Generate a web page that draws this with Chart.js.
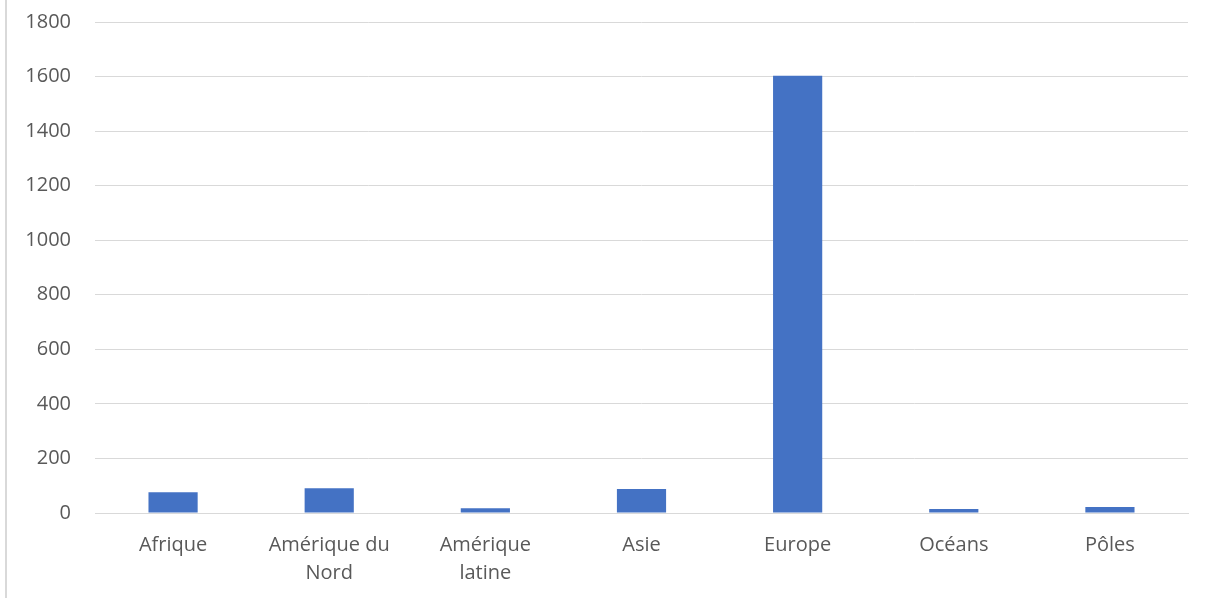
<!DOCTYPE html>
<html>
<head>
<meta charset="utf-8">
<script src="https://cdn.jsdelivr.net/npm/chart.js@4.4.1/dist/chart.umd.min.js"></script>
<style>
  html, body { margin: 0; padding: 0; background: #ffffff; }
  #wrap { position: relative; width: 1210px; height: 598px; overflow: hidden; }
  #edge { position: absolute; left: 5px; top: 0; width: 2px; height: 598px; background: #d9d9d9; }
  canvas { position: absolute; left: 0; top: 0; }
</style>
</head>
<body>
<div id="wrap">
  <div id="edge"></div>
  <canvas id="c" width="1210" height="598"></canvas>
</div>
<script>
const categories = ['Afrique', ['Amérique du', 'Nord'], ['Amérique', 'latine'], 'Asie', 'Europe', 'Océans', 'Pôles'];
const values = [76, 91, 17, 88, 1603, 15, 22];
const yMin = 0;
const yMax = 1800;
const yStep = 200;

const txt = '#595959';
const grid = '#d9d9d9';
const font = { family: "'Open Sans', 'Noto Sans', sans-serif", size: 20, lineHeight: 1.4 };

new Chart(document.getElementById('c'), {
  type: 'bar',
  data: {
    labels: categories,
    datasets: [{
      data: values,
      backgroundColor: '#4472C4',
      borderWidth: 0,
      barPercentage: 0.315,
      categoryPercentage: 1.0
    }]
  },
  options: {
    responsive: false,
    animation: false,
    devicePixelRatio: 1,
    layout: { padding: { top: 22, right: 22, left: 0, bottom: 0 } },
    plugins: { legend: { display: false }, tooltip: { enabled: false } },
    scales: {
      x: {
        grid: { display: false, drawTicks: false },
        border: { display: true, color: grid, width: 1 },
        ticks: { color: txt, font: font, padding: 18, autoSkip: false, maxRotation: 0, minRotation: 0 },
        afterFit: (s) => { s.height = 85; s.paddingLeft = 0; s.paddingRight = 0; s.paddingTop = 0; s.paddingBottom = 0; }
      },
      y: {
        min: yMin,
        max: yMax,
        grid: { color: grid, lineWidth: 1, drawTicks: false },
        border: { display: false },
        ticks: { stepSize: yStep, color: txt, font: font, padding: 24, callback: (v) => String(v) },
        afterFit: (s) => { s.width = 95; s.paddingTop = 0; s.paddingBottom = 0; s.paddingLeft = 0; s.paddingRight = 0; }
      }
    }
  }
});
</script>
</body>
</html>
